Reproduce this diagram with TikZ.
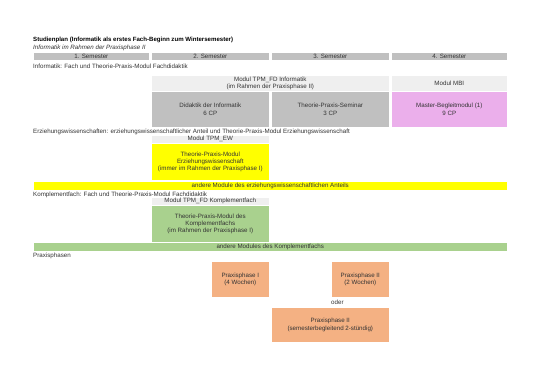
\documentclass[tikz,border=0pt]{standalone}
\usepackage{fontspec}
\setmainfont{Liberation Sans}
\usetikzlibrary{positioning}
\definecolor{semgray}{HTML}{C0C0C0}
\definecolor{headgray}{HTML}{EFEFEF}
\definecolor{modpink}{HTML}{EBAFEB}
\definecolor{ewyellow}{HTML}{FFFF00}
\definecolor{kfgreen}{HTML}{A9D18E}
\definecolor{pporange}{HTML}{F4B183}
\definecolor{txtgray}{HTML}{333333}

\begin{document}
\begin{tikzpicture}[x=1pt, y=-1pt,
		txt/.style={font=\fontsize{6.2}{7.4}\selectfont, text=txtgray, inner sep=0pt},
		rowlabel/.style={txt, anchor=west},
		cell/.style={txt, anchor=north west, align=center, draw=white, line width=0.6pt},
		sem/.style={cell, fill=semgray, minimum height=8pt},
		head/.style={cell, fill=headgray},
		gbox/.style={cell, fill=semgray, minimum width=118pt, minimum height=36pt},
		bar/.style={cell, minimum width=474pt, minimum height=9pt}]
		
		\useasboundingbox[fill=white] (0,0) rectangle (541,383);
		
		% title
		\node[rowlabel, font=\bfseries\fontsize{6.1}{7.4}\selectfont, text=black] (title) at (33,39.5)
		{Studienplan (Informatik als erstes Fach-Beginn zum Wintersemester)};
		\node[rowlabel, font=\itshape\fontsize{6.2}{7.4}\selectfont] (subtitle) at (33,47.5)
		{Informatik im Rahmen der Praxisphase II};
		
		% semesters
		\foreach \i/\x/\w in {1/33/116, 2/151/118, 3/271/118, 4/391/116}
		\node[sem, minimum width=\w pt] (sem\i) at (\x,52) {\i. Semester};
		
		% Informatik
		\node[rowlabel] (infolabel) at (33,66) {Informatik: Fach und Theorie-Praxis-Modul Fachdidaktik};
		\node[head, minimum width=238pt, minimum height=16pt] (tpmfd) at (151,75)
		{Modul TPM\_FD Informatik\\(im Rahmen der Praxisphase II)};
		\node[head, minimum width=116pt, minimum height=16pt] (mbi) at (391,75) {Modul MBI};
		\node[gbox] (didaktik) at (151,91) {Didaktik der Informatik\\6 CP};
		\node[gbox] (seminar) at (271,91) {Theorie-Praxis-Seminar\\3 CP};
		\node[gbox, fill=modpink, minimum width=116pt] (begleit) at (391,91)
		{Master-Begleitmodul (1)\\9 CP};
		
		% Erziehungswissenschaften
		\node[rowlabel] (ewlabel) at (33,131.5) {Erziehungswissenschaften: erziehungswissenschaftlicher Anteil und Theorie-Praxis-Modul Erziehungswissenschaft};
		\node[head, minimum width=118pt, minimum height=8pt] (tpmew) at (151,135) {Modul TPM\_EW};
		\node[gbox, fill=ewyellow, minimum height=37pt] (ewmodul) at (151,143)
		{Theorie-Praxis-Modul\\Erziehungswissenschaft\\(immer im Rahmen der Praxisphase I)};
		\node[bar, fill=ewyellow] (ewbar) at (33,181)
		{andere Module des erziehungswissenschaftlichen Anteils};
		
		% Komplementfach
		\node[rowlabel] (kflabel) at (33,195) {Komplementfach: Fach und Theorie-Praxis-Modul Fachdidaktik};
		\node[head, minimum width=118pt, minimum height=8pt] (tpmkf) at (151,197) {Modul TPM\_FD Komplementfach};
		\node[gbox, fill=kfgreen, minimum height=37pt] (kfmodul) at (151,205)
		{Theorie-Praxis-Modul des\\Komplementfachs\\(im Rahmen der Praxisphase I)};
		\node[bar, fill=kfgreen] (kfbar) at (33,242) {andere Modules des Komplementfachs};
		
		% Praxisphasen
		\node[rowlabel] (pplabel) at (33,256) {Praxisphasen};
		\node[cell, fill=pporange, minimum width=58pt, minimum height=36pt] (ppone) at (211,261)
		{Praxisphase I\\(4 Wochen)};
		\node[cell, fill=pporange, minimum width=58pt, minimum height=36pt] (pptwo) at (331,261)
		{Praxisphase II\\(2 Wochen)};
		\node[rowlabel] (oder) at (331,302) {oder};
		\node[cell, fill=pporange, minimum width=118pt, minimum height=35pt] (pptwob) at (271,307)
		{Praxisphase II\\(semesterbegleitend 2-stündig)};
		
	\end{tikzpicture}
\end{document}
